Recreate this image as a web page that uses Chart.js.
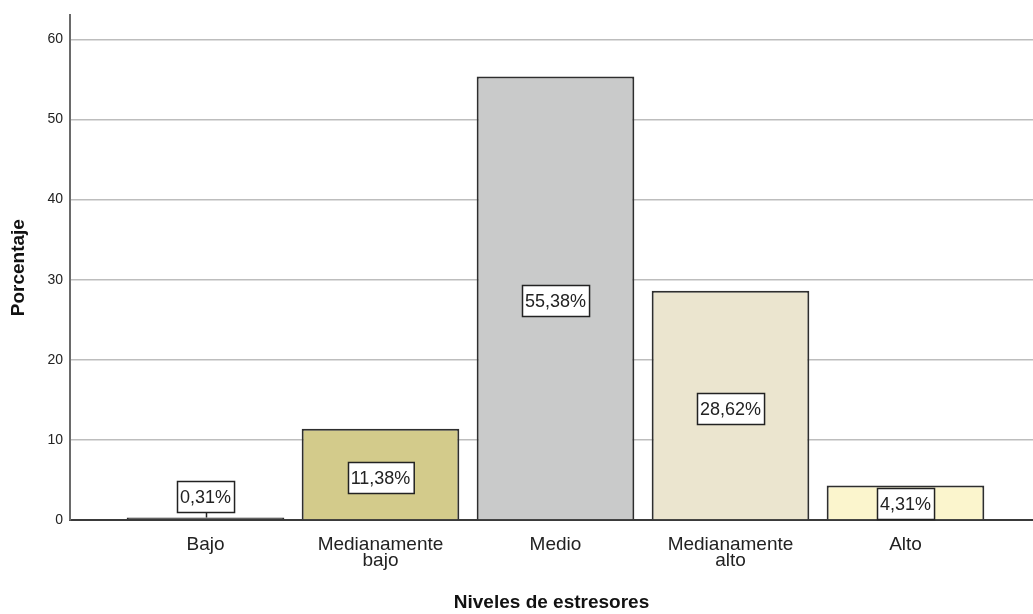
<!DOCTYPE html>
<html>
<head>
<meta charset="utf-8">
<script src="https://cdn.jsdelivr.net/npm/chart.js@4/dist/chart.umd.min.js"></script>
<style>
  html, body { margin: 0; padding: 0; background: #ffffff; }
  #wrap { width: 1033px; height: 614px; }
</style>
</head>
<body>
<div id="wrap"><canvas id="chart" width="1033" height="614"></canvas></div>
<script>
// Niveles de estresores: porcentaje por categoría
const categories = [
  ['Bajo'],
  ['Medianamente', 'bajo'],
  ['Medio'],
  ['Medianamente', 'alto'],
  ['Alto']
];
const percentages = [0.31, 11.38, 55.38, 28.62, 4.31];
const barColors = ['#333333', '#d3cb8b', '#c9caca', '#ebe5cf', '#fbf5cd'];
const yTicks = [0, 10, 20, 30, 40, 50, 60];

const FONT = '"Liberation Sans", Arial, sans-serif';

// Percentage labels in white boxes, comma as decimal separator
const boxLabels = {
  id: 'boxLabels',
  afterDatasetsDraw(chart) {
    const ctx = chart.ctx;
    const meta = chart.getDatasetMeta(0);
    const fs = 18;
    ctx.save();
    ctx.font = fs + 'px ' + FONT;
    ctx.textAlign = 'center';
    ctx.textBaseline = 'middle';
    meta.data.forEach((bar, i) => {
      const v = percentages[i];
      const text = v.toFixed(2).replace('.', ',') + '%';
      const w = ctx.measureText(text).width + 6;
      const h = 31;
      const barH = bar.base - bar.y;
      let cy;
      let leader = false;
      if (barH < h * 0.5) {
        cy = bar.y - 6 - h / 2;
        leader = true;
      } else {
        cy = Math.max((bar.y + bar.base) / 2, Math.min((bar.y + bar.base) / 2 + 3, bar.base - h / 2));
      }
      const x0 = Math.round(bar.x - w / 2) + 0.5;
      const y0 = Math.round(cy - h / 2) + 0.5;
      if (leader) {
        ctx.strokeStyle = '#222';
        ctx.lineWidth = 1.5;
        ctx.beginPath();
        ctx.moveTo(Math.round(bar.x) + 0.5, y0 + h);
        ctx.lineTo(Math.round(bar.x) + 0.5, bar.y);
        ctx.stroke();
      }
      ctx.fillStyle = '#ffffff';
      ctx.fillRect(x0, y0, w, h);
      ctx.strokeStyle = '#222';
      ctx.lineWidth = 1.5;
      ctx.strokeRect(x0, y0, w, h);
      ctx.fillStyle = '#222';
      ctx.fillText(text, bar.x, y0 + h / 2 + 1);
    });
    ctx.restore();
  }
};

new Chart(document.getElementById('chart'), {
  type: 'bar',
  data: {
    datasets: [{
      data: percentages.map((p, i) => ({ x: i, y: p })),
      backgroundColor: barColors,
      borderColor: '#2e2e2e',
      borderWidth: 2,
      categoryPercentage: 1,
      barPercentage: 0.901
    }]
  },
  options: {
    responsive: false,
    animation: false,
    devicePixelRatio: 1,
    layout: { padding: { top: 14, right: 0, bottom: 0, left: 0 } },
    plugins: {
      legend: { display: false },
      tooltip: { enabled: false }
    },
    scales: {
      x: {
        type: 'linear',
        min: -0.7743,
        max: 4.7286,
        offset: false,
        afterBuildTicks(scale) {
          scale.ticks = categories.map((_, i) => ({ value: i }));
        },
        afterFit(scale) { scale.height = 94; },
        grid: { display: false, drawTicks: false, tickLength: 0 },
        border: { display: true, color: '#3a3a3a', width: 2 },
        ticks: {
          autoSkip: false,
          maxRotation: 0,
          padding: 16,
          color: '#222',
          font: { family: FONT, size: 19, lineHeight: 0.88 },
          callback: (value) => categories[value]
        },
        title: {
          display: true,
          text: 'Niveles de estresores',
          color: '#111',
          font: { family: FONT, size: 19, weight: 'bold' },
          padding: { top: 0, bottom: 0 }
        }
      },
      y: {
        min: 0,
        max: 63,
        afterBuildTicks(scale) {
          scale.ticks = yTicks.map(v => ({ value: v }));
        },
        afterFit(scale) { scale.width = 70; },
        grid: {
          drawTicks: false,
          tickLength: 0,
          lineWidth: 1.5,
          color: (c) => (c.tick && c.tick.value === 0) ? 'rgba(0,0,0,0)' : '#bdbdbd'
        },
        border: { display: true, color: '#6a6a6a', width: 2 },
        ticks: {
          padding: 7,
          color: '#222',
          font: { family: FONT, size: 14 }
        },
        title: {
          display: true,
          text: 'Porcentaje',
          color: '#111',
          font: { family: FONT, size: 19, weight: 'bold' },
          padding: { top: 7, bottom: 0 }
        }
      }
    }
  },
  plugins: [boxLabels]
});
</script>
</body>
</html>
